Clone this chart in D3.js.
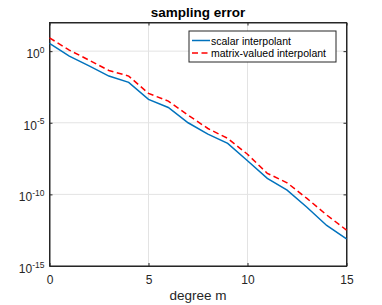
<!DOCTYPE html>
<html>
<head>
<meta charset="utf-8">
<script src="https://cdn.jsdelivr.net/npm/d3@7"></script>
<style>
body { margin: 0; background: #fff; }
svg { font-family: "Liberation Sans", Arial, sans-serif; }
</style>
</head>
<body>
<svg width="382" height="305"></svg>
<script>
var degrees = [0, 1, 2, 3, 4, 5, 6, 7, 8, 9, 10, 11, 12, 13, 14, 15];
// log10 of error
var scalarLog = [0.54, -0.35, -1.03, -1.74, -2.18, -3.37, -3.93, -5.0, -5.79, -6.44, -7.65, -8.88, -9.7, -10.9, -12.17, -13.1];
var matrixLog = [0.93, 0.07, -0.63, -1.35, -1.74, -2.95, -3.49, -4.47, -5.4, -6.09, -7.2, -8.53, -9.19, -10.28, -11.44, -12.49];
var xTicks = [0, 5, 10, 15];
var yTickExps = [0, -5, -10, -15];
var seriesNames = ["scalar interpolant", "matrix-valued interpolant"];

var margin = {left: 49.5, right: 35.5, top: 22.5, bottom: 39};
var width = 382, height = 305;
var svg = d3.select("svg");

var x = d3.scaleLinear().domain([0, 15]).range([margin.left, width - margin.right]);
var y = d3.scaleLog().domain([1e-15, 1e2]).range([height - margin.bottom, margin.top]);

// grid
svg.selectAll(".gx").data(xTicks).enter().append("line")
  .attr("x1", d => x(d)).attr("x2", d => x(d))
  .attr("y1", y.range()[0]).attr("y2", y.range()[1])
  .attr("stroke", "#e3e3e3").attr("stroke-width", 1);
svg.selectAll(".gy").data(yTickExps).enter().append("line")
  .attr("x1", x.range()[0]).attr("x2", x.range()[1])
  .attr("y1", d => y(Math.pow(10, d))).attr("y2", d => y(Math.pow(10, d)))
  .attr("stroke", "#e3e3e3").attr("stroke-width", 1);

// axes
svg.append("g").attr("transform", `translate(0,${y.range()[0]})`)
  .call(d3.axisBottom(x).tickValues(xTicks).tickSizeInner(-3).tickSizeOuter(0).tickPadding(9))
  .call(g => g.selectAll("text").attr("font-size", 12).attr("fill", "#262626"));
svg.append("g").attr("transform", `translate(0,${y.range()[1]})`)
  .call(d3.axisTop(x).tickValues(xTicks).tickSizeInner(-3).tickSizeOuter(0).tickFormat(""));
svg.append("g").attr("transform", `translate(${x.range()[0]},0)`)
  .call(d3.axisLeft(y).tickValues(yTickExps.map(e => Math.pow(10, e))).tickSizeInner(-3).tickSizeOuter(0).tickFormat(""));
svg.append("g").attr("transform", `translate(${x.range()[1]},0)`)
  .call(d3.axisRight(y).tickValues(yTickExps.map(e => Math.pow(10, e))).tickSizeInner(-3).tickSizeOuter(0).tickFormat(""));
svg.selectAll(".domain, .tick line").attr("stroke", "#262626");

// y labels with superscripts
var lab = svg.selectAll(".ylab").data(yTickExps).enter().append("text")
  .attr("x", x.range()[0] - 5).attr("y", d => y(Math.pow(10, d)) + 7)
  .attr("text-anchor", "end").attr("font-size", 12).attr("fill", "#262626");
lab.append("tspan").text("10");
lab.append("tspan").attr("font-size", 8.5).attr("dy", -5.5).text(d => d);

// box
svg.append("rect").attr("x", x.range()[0]).attr("y", y.range()[1])
  .attr("width", x.range()[1] - x.range()[0]).attr("height", y.range()[0] - y.range()[1])
  .attr("fill", "none").attr("stroke", "#262626").attr("stroke-width", 1);

// lines
var line = d3.line().x((d, i) => x(degrees[i])).y(d => y(Math.pow(10, d)));
svg.append("path").datum(scalarLog).attr("d", line)
  .attr("fill", "none").attr("stroke", "#0072BD").attr("stroke-width", 1.5);
svg.append("path").datum(matrixLog).attr("d", line)
  .attr("fill", "none").attr("stroke", "#FF0000").attr("stroke-width", 1.5)
  .attr("stroke-dasharray", "6,3.5");

// title and label
svg.append("text").attr("x", (x.range()[0] + x.range()[1]) / 2).attr("y", 17)
  .attr("text-anchor", "middle").attr("font-size", 13.5).attr("font-weight", "bold")
  .attr("fill", "#000").text("sampling error");
svg.append("text").attr("x", (x.range()[0] + x.range()[1]) / 2).attr("y", 300)
  .attr("text-anchor", "middle").attr("font-size", 13.5).attr("fill", "#262626").text("degree m");

// legend
var lg = svg.append("g").attr("transform", "translate(189,31)");
lg.append("rect").attr("width", 147).attr("height", 31)
  .attr("fill", "#fff").attr("stroke", "#262626").attr("stroke-width", 1);
var colors = ["#0072BD", "#FF0000"];
var dashes = [null, "6,3.5"];
seriesNames.forEach(function (name, i) {
  var yy = 9.5 + i * 12.5;
  lg.append("line").attr("x1", 3).attr("x2", 21).attr("y1", yy).attr("y2", yy)
    .attr("stroke", colors[i]).attr("stroke-width", 1.5).attr("stroke-dasharray", dashes[i]);
  lg.append("text").attr("x", 22).attr("y", yy + 4).attr("font-size", 10.5)
    .attr("fill", "#000").text(name);
});
</script>
</body>
</html>
